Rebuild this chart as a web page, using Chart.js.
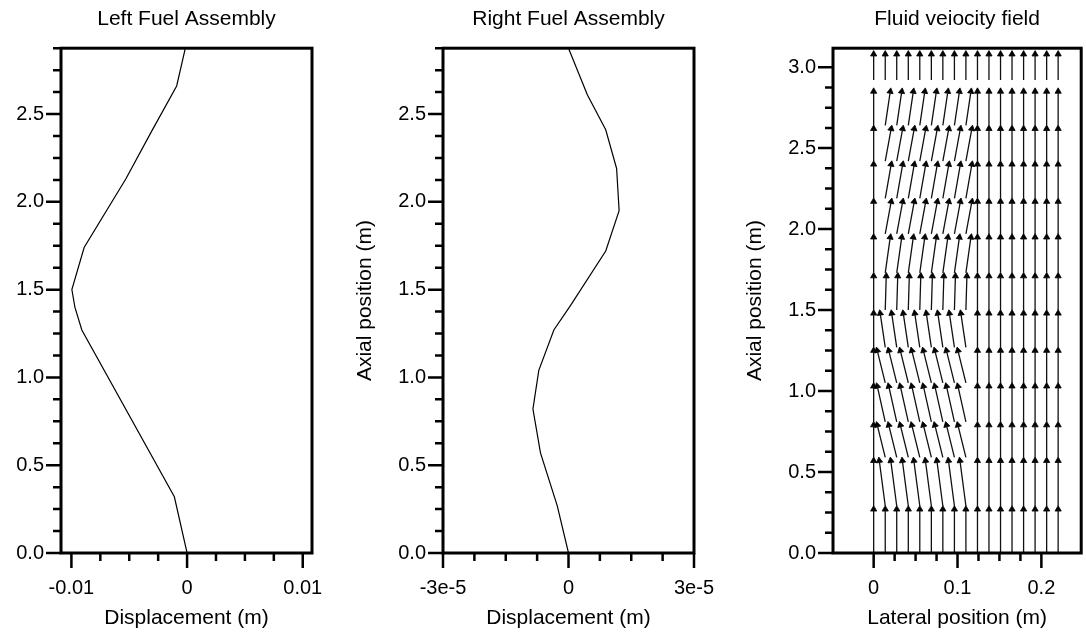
<!DOCTYPE html>
<html>
<head>
<meta charset="utf-8">
<title>Fuel assembly displacement and fluid velocity field</title>
<script src="https://cdn.jsdelivr.net/npm/chart.js@4.4.1/dist/chart.umd.min.js"></script>
<style>
    html, body { margin: 0; padding: 0; background: #fff; }
    #page { position: relative; width: 1086px; height: 635px; overflow: hidden; }
    #page canvas { position: absolute; top: 0; }
    #leftChart { left: 0; }
    #rightChart { left: 340px; }
    #fluidChart { left: 730px; }
</style>
</head>
<body>
<div id="page">
    <canvas id="leftChart" width="330" height="635"></canvas>
    <canvas id="rightChart" width="378" height="635"></canvas>
    <canvas id="fluidChart" width="356" height="635"></canvas>
</div>
<script>
'use strict';

// ===== TICKS =====
const axialTicks = [0, 0.5, 1.0, 1.5, 2.0, 2.5];
const axialTickLabels = ['0.0', '0.5', '1.0', '1.5', '2.0', '2.5'];
const fluidAxialTicks = [0, 0.5, 1.0, 1.5, 2.0, 2.5, 3.0];
const fluidAxialTickLabels = ['0.0', '0.5', '1.0', '1.5', '2.0', '2.5', '3.0'];

const leftDispTicks = [-0.01, 0, 0.01];
const leftDispTickLabels = ['-0.01', '0', '0.01'];
const rightDispTicks = [-3e-5, 0, 3e-5];
const rightDispTickLabels = ['-3e-5', '0', '3e-5'];
const lateralTicks = [0, 0.1, 0.2];
const lateralTickLabels = ['0', '0.1', '0.2'];

// ===== LEFT FUEL ASSEMBLY (axial position m, displacement m) =====
const leftAxial = [0, 0.32, 1.27, 1.40, 1.50, 1.74, 2.13, 2.41, 2.66, 2.875];
const leftDisp  = [0, -0.0011, -0.0091, -0.0097, -0.00996, -0.0089, -0.0053, -0.0030, -0.0009, -0.00015];

// ===== RIGHT FUEL ASSEMBLY =====
const rightAxial = [0, 0.27, 0.57, 0.82, 1.04, 1.27, 1.41, 1.72, 1.95, 2.19, 2.41, 2.61, 2.875];
const rightDisp  = [0, -2.7e-6, -6.7e-6, -8.5e-6, -7.1e-6, -3.5e-6, 0.5e-6, 8.9e-6, 1.21e-5, 1.15e-5, 8.9e-6, 4.5e-6, 0];

// ===== FLUID VELOCITY FIELD =====
// lateral grid columns (m)
const gridLateral = [0, 0.0138, 0.0275, 0.0413, 0.055, 0.0688, 0.0825, 0.0963, 0.11,
                     0.1238, 0.1375, 0.1513, 0.165, 0.1788, 0.1925, 0.2063, 0.22];
// axial level of each arrow row: tail and tip (m)
const gridAxialTail = [0, 0.29, 0.59, 0.81, 1.05, 1.27, 1.50, 1.73, 1.97, 2.19, 2.42, 2.64, 2.92];
const gridAxialHead = [0.27, 0.57, 0.79, 1.03, 1.25, 1.48, 1.71, 1.95, 2.17, 2.40, 2.62, 2.85, 3.08];
// lateral drift of the arrow tip in each row (m), applied in the gap columns
const rowDrift = [0, -0.0071, -0.0095, -0.0095, -0.0095, -0.006, 0.0012, 0.006, 0.0071, 0.0071, 0.0071, 0.006, 0];
const driftColumns = [0, 1, 1, 1, 1, 1, 1, 1, 1, 0, 0, 0, 0, 0, 0, 0, 0];

Chart.defaults.font.family = '"Liberation Sans", Arial, Helvetica, sans-serif';
Chart.defaults.color = '#000';
Chart.defaults.animation = false;

// ===== FRAME + MAJOR/MINOR TICK MARKS =====
function stepValues(from, to, step) {
    const out = [];
    const n = Math.round((to - from) / step);
    for (let i = 0; i <= n; i++) out.push(from + i * step);
    return out;
}

const frameTicks = {
    id: 'frameTicks',
    afterDatasetsDraw(chart, args, opts) {
        const { ctx, chartArea: a, scales: { x, y } } = chart;
        const isMajor = (scale, v, step) => scale.ticks.some(t => Math.abs(t.value - v) < step / 100);

        ctx.save();
        ctx.strokeStyle = '#000';
        ctx.lineWidth = 2.5;
        ctx.beginPath();
        stepValues(opts.xFrom, opts.xTo, opts.xStep).forEach(v => {
            const px = x.getPixelForValue(v);
            const len = isMajor(x, v, opts.xStep) ? 15 : 8;
            ctx.moveTo(px, a.bottom);
            ctx.lineTo(px, a.bottom + len);
        });
        stepValues(opts.yFrom, opts.yTo, opts.yStep).forEach(v => {
            const py = y.getPixelForValue(v);
            const len = isMajor(y, v, opts.yStep) ? 15 : 8;
            ctx.moveTo(a.left, py);
            ctx.lineTo(a.left - len, py);
        });
        ctx.stroke();

        ctx.lineWidth = 3;
        ctx.strokeRect(a.left, a.top, a.right - a.left, a.bottom - a.top);
        ctx.restore();
    }
};

function makeScale(cfg) {
    const vertical = cfg.position === 'left';
    return {
        type: 'linear',
        position: cfg.position,
        min: cfg.min,
        max: cfg.max,
        grid: { display: false, drawTicks: false },
        border: { display: false },
        afterBuildTicks: scale => { scale.ticks = cfg.ticks.map(v => ({ value: v })); },
        afterFit: scale => {
            if (vertical) scale.width = cfg.size;
            else scale.height = cfg.size;
            // labels may hang past the frame; don't let them shrink the plot
            scale.paddingLeft = scale.paddingRight = 0;
            scale.paddingTop = scale.paddingBottom = 0;
        },
        ticks: {
            autoSkip: false,
            maxRotation: 0,
            padding: vertical ? 17 : 23,
            font: { size: 20 },
            callback: (value, index) => cfg.labels[index]
        },
        title: {
            display: !!cfg.title,
            text: cfg.title || '',
            font: { size: 21 },
            padding: vertical ? { top: 13, bottom: 0 } : { top: 0, bottom: 4 }
        }
    };
}

function baseOptions(title, rightPad, scales, frame) {
    return {
        responsive: false,
        events: [],
        layout: { padding: { left: 0, right: rightPad, top: 0, bottom: 0 } },
        plugins: {
            legend: { display: false },
            tooltip: { enabled: false },
            title: {
                display: true,
                text: title,
                fullSize: false,
                font: { size: 21, weight: 'normal' },
                padding: { top: 7, bottom: 16 }
            },
            frameTicks: frame
        },
        scales: scales
    };
}

function profileData(axial, disp) {
    return axial.map((yv, i) => ({ x: disp[i], y: yv }));
}

// ===== LEFT FUEL ASSEMBLY =====
function initLeftChart() {
    new Chart(document.getElementById('leftChart'), {
        type: 'scatter',
        data: {
            datasets: [{
                data: profileData(leftAxial, leftDisp),
                showLine: true,
                borderColor: '#000',
                borderWidth: 1.2,
                pointRadius: 0,
                tension: 0
            }]
        },
        options: baseOptions('Left Fuel Assembly', 18, {
            x: makeScale({ position: 'bottom', min: -0.0109, max: 0.0108, ticks: leftDispTicks,
                           labels: leftDispTickLabels, size: 82, title: 'Displacement (m)' }),
            y: makeScale({ position: 'left', min: 0, max: 2.875, ticks: axialTicks,
                           labels: axialTickLabels, size: 61 })
        }, { xFrom: -0.01, xTo: 0.01, xStep: 0.0025, yFrom: 0, yTo: 2.875, yStep: 0.125 }),
        plugins: [frameTicks]
    });
}

// ===== RIGHT FUEL ASSEMBLY =====
function initRightChart() {
    new Chart(document.getElementById('rightChart'), {
        type: 'scatter',
        data: {
            datasets: [{
                data: profileData(rightAxial, rightDisp),
                showLine: true,
                borderColor: '#000',
                borderWidth: 1.2,
                pointRadius: 0,
                tension: 0
            }]
        },
        options: baseOptions('Right Fuel Assembly', 24, {
            x: makeScale({ position: 'bottom', min: -3e-5, max: 3e-5, ticks: rightDispTicks,
                           labels: rightDispTickLabels, size: 82, title: 'Displacement (m)' }),
            y: makeScale({ position: 'left', min: 0, max: 2.875, ticks: axialTicks,
                           labels: axialTickLabels, size: 103, title: 'Axial position (m)' })
        }, { xFrom: -3e-5, xTo: 3e-5, xStep: 0.75e-5, yFrom: 0, yTo: 2.875, yStep: 0.125 }),
        plugins: [frameTicks]
    });
}

// ===== FLUID VELOCITY FIELD =====
function buildQuiver() {
    const shafts = [], heads = [], tails = [];
    gridAxialHead.forEach((yHead, r) => {
        gridLateral.forEach((x, c) => {
            const xHead = x + rowDrift[r] * driftColumns[c];
            shafts.push({ x: x, y: gridAxialTail[r] }, { x: xHead, y: yHead }, { x: null, y: null });
            tails.push({ x: x, y: gridAxialTail[r] });
            heads.push({ x: xHead, y: yHead });
        });
    });
    return { shafts, heads, tails };
}

function initFluidChart() {
    const quiver = buildQuiver();

    new Chart(document.getElementById('fluidChart'), {
        type: 'scatter',
        data: {
            datasets: [{
                data: quiver.shafts,
                showLine: true,
                spanGaps: false,
                borderColor: '#111',
                borderWidth: 1.3,
                pointRadius: 0,
                tension: 0
            }, {
                data: quiver.heads,
                pointStyle: 'triangle',
                pointRadius: 3.6,
                pointBackgroundColor: '#000',
                pointBorderColor: '#000',
                pointBorderWidth: 0.8,
                pointRotation: c => {
                    const t = quiver.tails[c.dataIndex];
                    const h = quiver.heads[c.dataIndex];
                    const { x, y } = c.chart.scales;
                    const dx = x.getPixelForValue(h.x) - x.getPixelForValue(t.x);
                    const dy = y.getPixelForValue(t.y) - y.getPixelForValue(h.y);
                    return Math.atan2(dx, dy) * 180 / Math.PI;
                }
            }]
        },
        options: baseOptions('Fluid veiocity field', 3, {
            x: makeScale({ position: 'bottom', min: -0.0485, max: 0.2475, ticks: lateralTicks,
                           labels: lateralTickLabels, size: 82, title: 'Lateral position (m)' }),
            y: makeScale({ position: 'left', min: 0, max: 3.117, ticks: fluidAxialTicks,
                           labels: fluidAxialTickLabels, size: 103, title: 'Axial position (m)' })
        }, { xFrom: 0, xTo: 0.2, xStep: 0.025, yFrom: 0, yTo: 3.0, yStep: 0.125 }),
        plugins: [frameTicks]
    });
}

initLeftChart();
initRightChart();
initFluidChart();
</script>
</body>
</html>
